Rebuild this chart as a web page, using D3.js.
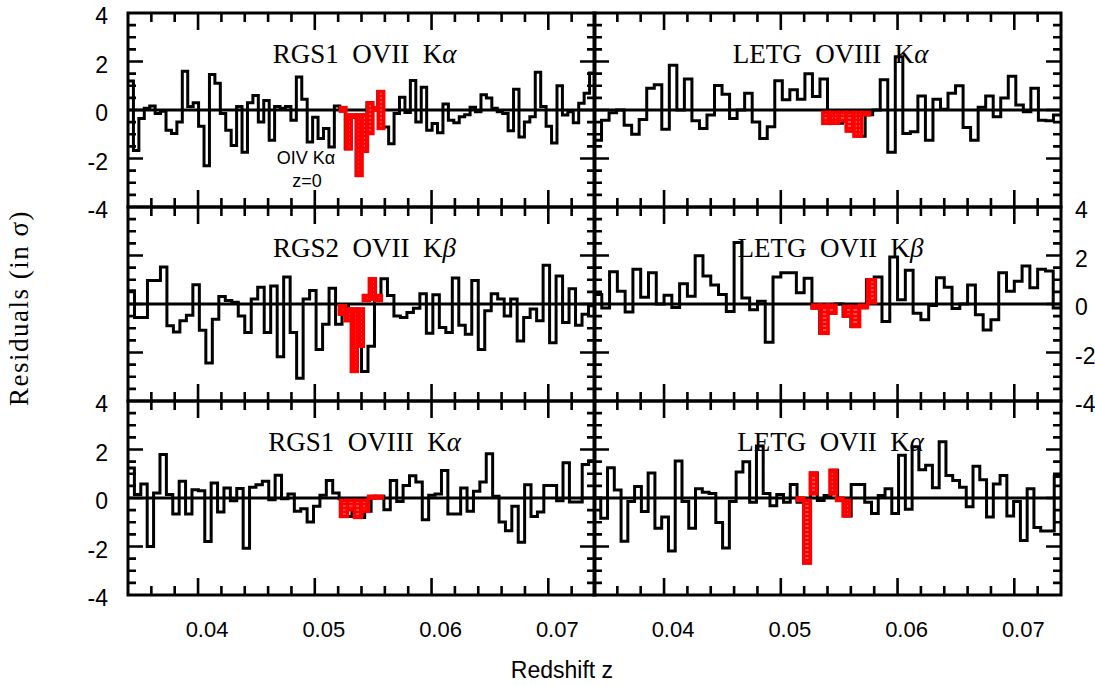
<!DOCTYPE html>
<html>
<head>
<meta charset="utf-8">
<script src="https://cdn.jsdelivr.net/npm/d3@7"></script>
<style>
  body { margin: 0; background: #fff; }
</style>
</head>
<body>
<svg id="chart" width="1095" height="686"></svg>
<script>
// residuals (in sigma), uniform bins across z = 0.034 .. 0.074
const rgs1OviiKa = [1.2, -1.67, -0.35, 0.07, 0.17, -0.14, -0.05, -0.83, -0.97, -0.49, 1.6, 0.14, 0.3, -0.67, -2.3, 1.46, 1.1, -0.14, -0.83, -1.46,
  0.14, -1.74, 0.3, 0.6, -0.49, 0.39, -1.25, 0.14, 0.07, 0.14, -0.42, 1.36, 0.44, -1.32, -0.3, -1.18, -0.76, -1.53, 0.17,
  0.1, -1.6, -0.3, -2.7, -1.7, 0.3, 0.1, 0.76,
  -0.7, -1.39, -0.14, 0.53, -0.1, 1.22, -0.49, 0.94, -0.83, -0.56, -0.94, 0.25, -0.42, -0.53, -0.28, -0.2, 0.11, -0.07, 0.63, 0.49,
  0.07, -0.07, -0.14, -0.86, 0.86, -1.11, -0.49, -0.28, 1.56, 0.14, -0.67, -1.36, 1.0, -0.21, -0.07, -0.53, 0.28, 0.69, 1.53];
const letgOviiiKa = [-1.25, -0.42, -0.11, 0.0, -0.63, -1.0, -0.39, 0.9, 1.04, -0.79, 1.85, 0.0, 1.28, -0.44, -0.76, -0.21, 1.01, 0.65, -0.35, 0.0,
  0.69, -0.49, -1.18, -0.69, 1.21, 0.42, 0.83, 0.44, 1.5, 0.56, 1.28,
  -0.55, -0.55, -0.45, -0.87, -1.08, -0.2,
  0.0, 1.25, -1.74, 2.2, -0.97, -0.9, 0.58, -1.25, 0.44, 0.03, 0.69, 1.0, -0.72, -1.25, 0.11, 0.58, -0.28, 0.49, 1.39, 0.21,
  -0.07, 0.9, -0.42, -0.44, -0.21];
const rgs2OviiKb = [0.55, -0.56, -0.56, 0.97, 0.97, 1.53, -0.9, -1.15, -0.69, -0.46, 0.79, -1.08, -2.43, -0.63, 0.31, 0.14, 0.07, -0.49, -1.18, 0.21,
  0.69, -1.18, 0.74, -2.18, 1.11, -1.18, -3.06, 0.21, 0.56, -1.88, -0.83, 0.65, -0.83, -0.04,
  -0.42, -0.69, -2.78, -1.74, 0.35, 1.04, 0.35,
  -0.49, -0.56, -0.35, -0.18, 0.42, -1.21, 0.38, -0.97, -1.18, 1.07, -0.88, -1.25, 0.97, -1.88, -0.28, 0.42, 0.21, -0.49, 0.21, -1.53,
  -0.56, -0.21, -0.69, 1.6, -1.6, 1.15, -0.76, 0.63, -0.88, -0.42, -0.07];
const letgOviiKb = [0.39, -0.17, 1.33, 0.53, -0.33, 1.43, 0.28, 1.29, 0.0, 0.36, -0.14, 0.83, 0.32, 1.99, 1.15, 0.78, 0.39, -0.31, 2.54, 0.25,
  -0.24, 0.11, -1.58, 1.11, 1.29, 1.29, 0.46, 1.06,
  -0.17, -1.21, -0.38, 0.0, -0.5, -0.93, -0.15, 1.0,
  1.11, -0.72, 1.94, 0.18, 1.39, -0.38, -0.65, -0.06, 1.08, 0.69, -0.19, 0.0, 0.78, -0.44, -1.07, -0.65, 1.29, 0.53, 0.94, 1.57,
  0.67, 1.43, 1.36, -0.17];
const rgs1OviiiKa = [1.24, 0.14, 0.58, -2.0, 0.21, 1.79, 0.14, -0.66, 0.69, -0.66, 0.34, 0.3, -1.79, 0.62, -0.58, 0.41, -0.11, 0.39, -2.07, 0.44,
  0.55, 0.69, -0.07, 0.94, -0.03, 0.17, -0.55, -0.44, -0.99, -0.34, 0.11, 0.72, 0.21, -0.03,
  -0.76, -0.48, -0.8, -0.55, 0.07, 0.07,
  -0.48, 0.72, -0.14, 0.52, 0.92, 0.66, -0.9, 0.11, 0.17, 1.13, -0.66, -0.66, 0.41, -0.55, 0.28, 0.66, 1.82, 0.07, -0.99, -1.35,
  -0.34, -1.82, 0.55, -0.76, -0.58, 0.52, 0.52, -0.11, 1.45, -0.17, -0.17, 1.38, 1.54];
const letgOviiKa = [0.0, -0.83, 1.25, 0.33, -1.78, -0.14, 0.47, -0.56, 1.03, -1.25, -0.78, -2.19, 1.53, -0.14, -1.25, 0.38, 0.24, 0.19, -1.01, -2.06,
  -0.14, 1.07, 1.49, -0.18, 2.14, 0.19, -0.32, 0.14, -0.18, 0.56,
  -0.18, -2.68, 1.03, -0.1, 0.1, 1.14, -0.1, -0.74,
  0.56, 0.56, -0.18, -0.64, 0.1, 0.38, -0.64, 1.76, -0.46, 2.11, 1.17, 1.35, 0.42, 2.32, 0.93, 0.72, 0.44, -0.36, 1.31, 0.75,
  -0.78, 0.58, 0.93, -0.74, -0.14, -1.75, 0.38, -1.22, -1.36, -1.36, 0.89];

// highlighted (red) line regions: z range, then low / high edge of each red bin
const rgs1OviiKaRed = [0.0522, 0.0559];
const rgs1OviiKaRedLo = [-0.05, -1.6, -0.3, -2.7, -1.7, -0.97, 0.0, -0.76];
const rgs1OviiKaRedHi = [0.1, -0.2, -0.2, -0.2, -0.2, 0.3, 0.1, 0.76];
const letgOviiiKaRed = [0.0536, 0.0576];
const letgOviiiKaRedLo = [-0.55, -0.55, -0.45, -0.87, -1.08, -0.2];
const letgOviiiKaRedHi = [-0.1, -0.1, -0.1, -0.1, -0.1, -0.1];
const rgs2OviiKbRed = [0.0521, 0.0557];
const rgs2OviiKbRedLo = [-0.42, -0.69, -2.78, -1.74, 0.14, 0.2, 0.14];
const rgs2OviiKbRedHi = [-0.07, -0.2, -0.2, -0.2, 0.35, 1.04, 0.35];
const letgOviiKbRed = [0.0527, 0.0581];
const letgOviiKbRedLo = [-0.17, -1.21, -0.38, 0.0, -0.5, -0.93, -0.15, 0.05];
const letgOviiKbRedHi = [-0.05, -0.05, -0.05, 0.0, -0.1, -0.1, -0.05, 1.0];
const rgs1OviiiKaRed = [0.0522, 0.0558];
const rgs1OviiiKaRedLo = [-0.76, -0.48, -0.8, -0.55, 0.0, 0.0];
const rgs1OviiiKaRedHi = [-0.1, -0.1, -0.1, -0.1, 0.07, 0.07];
const letgOviiKaRed = [0.0514, 0.0559];
const letgOviiKaRedLo = [-0.1, -2.68, 0.17, -0.1, 0.1, 0.17, -0.1, -0.74];
const letgOviiKaRedHi = [0.0, -0.1, 1.03, -0.1, 0.1, 1.14, 0.0, -0.1];

const titles = ["RGS1  OVII  K", "LETG  OVIII  K", "RGS2  OVII  K", "LETG  OVII  K", "RGS1  OVIII  K", "LETG  OVII  K"];
const greek = ["\u03b1", "\u03b1", "\u03b2", "\u03b2", "\u03b1", "\u03b1"];
const zDomain = [0.034, 0.074];
const xTickLabels = [0.04, 0.05, 0.06, 0.07];
const yTickLabels = [-4, -2, 0, 2, 4];

const panels = [
  {vals: rgs1OviiKa, red: rgs1OviiKaRed, lo: rgs1OviiKaRedLo, hi: rgs1OviiKaRedHi},
  {vals: letgOviiiKa, red: letgOviiiKaRed, lo: letgOviiiKaRedLo, hi: letgOviiiKaRedHi},
  {vals: rgs2OviiKb, red: rgs2OviiKbRed, lo: rgs2OviiKbRedLo, hi: rgs2OviiKbRedHi},
  {vals: letgOviiKb, red: letgOviiKbRed, lo: letgOviiKbRedLo, hi: letgOviiKbRedHi},
  {vals: rgs1OviiiKa, red: rgs1OviiiKaRed, lo: rgs1OviiiKaRedLo, hi: rgs1OviiiKaRedHi},
  {vals: letgOviiKa, red: letgOviiKaRed, lo: letgOviiKaRedLo, hi: letgOviiKaRedHi}
];

const colLeft = [128, 594];
const rowTop = [13, 207, 401];
const pw = 467, ph = 194;

const svg = d3.select('#chart');
const defs = svg.append('defs');
const pat = defs.append('pattern').attr('id', 'hatch')
  .attr('width', 6).attr('height', 4).attr('patternUnits', 'userSpaceOnUse');
pat.append('rect').attr('width', 6).attr('height', 4).attr('fill', '#ff0000');
pat.append('rect').attr('x', 1).attr('y', 1.6).attr('width', 4).attr('height', 0.8)
  .attr('fill', '#fff').attr('opacity', 0.75);

// minor ticks every 0.002 in z and 0.5 in sigma
const minorX = [0.036, 0.038, 0.042, 0.044, 0.046, 0.048, 0.052, 0.054, 0.056, 0.058, 0.062, 0.064, 0.066, 0.068, 0.072];
const minorY = [-3.5, -3, -2.5, -1.5, -1, -0.5, 0.5, 1, 1.5, 2.5, 3, 3.5];

panels.forEach((p, k) => {
  const col = k % 2, row = Math.floor(k / 2);
  const x0 = colLeft[col], y0 = rowTop[row];
  const x = d3.scaleLinear().domain(zDomain).range([x0, x0 + pw]);
  const y = d3.scaleLinear().domain([-4, 4]).range([y0 + ph, y0]);

  defs.append('clipPath').attr('id', 'clip' + k)
    .append('rect').attr('x', x0).attr('y', y0).attr('width', pw).attr('height', ph);

  const plot = svg.append('g').attr('clip-path', 'url(#clip' + k + ')');

  // step histogram
  const n = p.vals.length;
  const w = (zDomain[1] - zDomain[0]) / n;
  const pts = p.vals.map((v, i) => [zDomain[0] + i * w, v]);
  pts.push([zDomain[1], p.vals[n - 1]]);
  const line = d3.line().x(d => x(d[0])).y(d => y(d[1])).curve(d3.curveStepAfter);

  plot.append('line')
    .attr('x1', x(zDomain[0])).attr('x2', x(zDomain[1]))
    .attr('y1', y(0)).attr('y2', y(0))
    .attr('stroke', '#000').attr('stroke-width', 2.8);

  plot.append('path').attr('d', line(pts))
    .attr('fill', 'none').attr('stroke', '#000').attr('stroke-width', 3);

  // red hatched line region
  const rw = (p.red[1] - p.red[0]) / p.lo.length;
  const bins = p.lo.map((lo, i) => ({z0: p.red[0] + i * rw, z1: p.red[0] + (i + 1) * rw, lo: lo, hi: p.hi[i]}))
    .filter(d => d.hi - d.lo > 0.01);
  plot.selectAll('rect.red').data(bins).enter().append('rect')
    .attr('class', 'red')
    .attr('x', d => x(d.z0))
    .attr('width', d => x(d.z1) - x(d.z0))
    .attr('y', d => y(d.hi))
    .attr('height', d => y(d.lo) - y(d.hi))
    .attr('fill', 'url(#hatch)')
    .attr('stroke', '#ff0000').attr('stroke-width', 3.5);

  svg.append('rect').attr('x', x0).attr('y', y0).attr('width', pw).attr('height', ph)
    .attr('fill', 'none').attr('stroke', '#000').attr('stroke-width', 3);

  // ticks on all four sides, pointing inward
  let td = '';
  xTickLabels.forEach(v => { td += 'M' + x(v) + ',' + (y0 + ph) + 'v-17M' + x(v) + ',' + y0 + 'v17'; });
  minorX.forEach(v => { td += 'M' + x(v) + ',' + (y0 + ph) + 'v-9M' + x(v) + ',' + y0 + 'v9'; });
  [-2, 0, 2].forEach(v => { td += 'M' + x0 + ',' + y(v) + 'h15M' + (x0 + pw) + ',' + y(v) + 'h-15'; });
  minorY.forEach(v => { td += 'M' + x0 + ',' + y(v) + 'h8M' + (x0 + pw) + ',' + y(v) + 'h-8'; });
  svg.append('path').attr('d', td)
    .attr('fill', 'none').attr('stroke', '#000').attr('stroke-width', 2.6);

  // panel title
  const t = svg.append('text')
    .attr('x', x0 + pw / 2 + 3).attr('y', y0 + 50)
    .attr('text-anchor', 'middle')
    .attr('font-family', '"Liberation Serif", "DejaVu Serif", serif')
    .attr('font-size', 27)
    .attr('xml:space', 'preserve');
  t.append('tspan').text(titles[k]);
  t.append('tspan').attr('font-style', 'italic').text(greek[k]);

  // y tick labels
  const showLeft = col === 0 && row !== 1;
  const showRight = col === 1 && row === 1;
  if (showLeft || showRight) {
    svg.append('g').selectAll('text').data(yTickLabels).enter().append('text')
      .attr('x', showLeft ? x0 - 20 : x0 + pw + 14)
      .attr('y', d => y(d) + 5)
      .attr('dominant-baseline', 'middle')
      .attr('text-anchor', showLeft ? 'end' : 'start')
      .attr('font-family', '"Liberation Sans", Arial, sans-serif')
      .attr('font-size', 23)
      .text(d => d);
  }

  // x tick labels on bottom row
  if (row === 2) {
    svg.append('g').selectAll('text').data(xTickLabels).enter().append('text')
      .attr('x', d => x(d) + 9)
      .attr('y', 631)
      .attr('dominant-baseline', 'middle')
      .attr('text-anchor', 'middle')
      .attr('font-family', '"Liberation Sans", Arial, sans-serif')
      .attr('font-size', 22)
      .text(d => d.toFixed(2));
  }

  if (k === 0) {
    svg.append('text').attr('x', 306).attr('y', 159)
      .attr('text-anchor', 'middle').attr('dominant-baseline', 'middle')
      .attr('font-family', '"Liberation Sans", Arial, sans-serif').attr('font-size', 18)
      .text('OIV K\u03b1');
    svg.append('text').attr('x', 307).attr('y', 182)
      .attr('text-anchor', 'middle').attr('dominant-baseline', 'middle')
      .attr('font-family', '"Liberation Sans", Arial, sans-serif').attr('font-size', 18)
      .text('z=0');
  }
});

// axis titles
svg.append('text')
  .attr('transform', 'translate(28,308) rotate(-90)')
  .attr('text-anchor', 'middle')
  .attr('font-family', '"Liberation Serif", "DejaVu Serif", serif')
  .attr('font-size', 27)
  .attr('letter-spacing', 1.5)
  .text('Residuals (in \u03c3)');

svg.append('text')
  .attr('x', 562).attr('y', 672)
  .attr('text-anchor', 'middle').attr('dominant-baseline', 'middle')
  .attr('font-family', '"Liberation Sans", Arial, sans-serif')
  .attr('font-size', 23)
  .text('Redshift z');
</script>
</body>
</html>
